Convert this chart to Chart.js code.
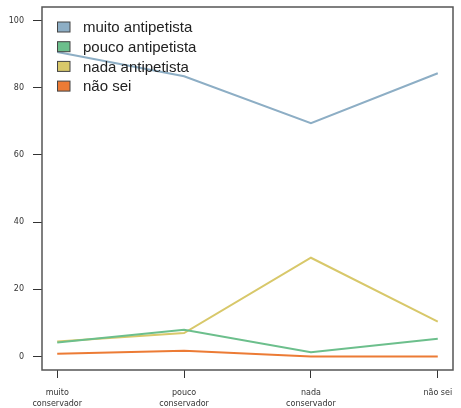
<!DOCTYPE html>
<html>
<head>
<meta charset="utf-8">
<script src="https://cdn.jsdelivr.net/npm/chart.js@4/dist/chart.umd.min.js"></script>
<style>
html,body{margin:0;padding:0;background:#fff;}
#wrap{width:461px;height:408px;position:relative;}
</style>
</head>
<body>
<div id="wrap"><canvas id="c" width="461" height="408"></canvas></div>
<script>
const categories = [["muito","conservador"],["pouco","conservador"],["nada","conservador"],["não sei"]];
const seriesNames = ["muito antipetista","pouco antipetista","nada antipetista","não sei"];
const muitoAntipetista = [90.6, 83.4, 69.4, 84.3];
const poucoAntipetista = [4.2, 8.0, 1.3, 5.3];
const nadaAntipetista  = [4.5, 7.0, 29.4, 10.4];
const naoSei           = [0.8, 1.7, 0.0, 0.0];
const yTicks = [0, 20, 40, 60, 80, 100];
const colors = ["#8daec5", "#6cbf8c", "#d8c86a", "#ec7b35"];

const allSeries = [muitoAntipetista, poucoAntipetista, nadaAntipetista, naoSei];
const datasets = allSeries.map((vals, i) => ({
  label: seriesNames[i],
  data: vals.map((v, j) => ({x: j + 1, y: v})),
  borderColor: colors[i],
  backgroundColor: colors[i],
  borderWidth: 2,
  pointRadius: 0,
  tension: 0,
  fill: false
}));

const boxPlugin = {
  id: 'box',
  afterDraw(chart) {
    const {ctx, chartArea: a} = chart;
    ctx.save();
    ctx.strokeStyle = '#555';
    ctx.lineWidth = 1.5;
    ctx.strokeRect(a.left, a.top, a.right - a.left, a.bottom - a.top);
    // legend
    ctx.font = '15px "Liberation Sans", Arial, sans-serif';
    ctx.textBaseline = 'middle';
    ctx.textAlign = 'left';
    seriesNames.forEach((n, i) => {
      const y = 27 + i * 19.7;
      ctx.fillStyle = colors[i];
      ctx.fillRect(57.5, y - 5, 12.5, 10);
      ctx.strokeStyle = '#444';
      ctx.lineWidth = 1;
      ctx.strokeRect(57.5, y - 5, 12.5, 10);
      ctx.fillStyle = '#222';
      ctx.fillText(n, 83, y + 1);
    });
    ctx.restore();
  }
};

new Chart(document.getElementById('c'), {
  type: 'line',
  data: { datasets },
  options: {
    responsive: false,
    animation: false,
    layout: { padding: { top: 7, right: 8, left: 0, bottom: 0 } },
    plugins: { legend: { display: false }, tooltip: { enabled: false } },
    scales: {
      x: {
        type: 'linear',
        min: 0.88, max: 4.12,
        afterBuildTicks: s => { s.ticks = [1,2,3,4].map(v => ({value: v})); },
        afterFit: s => { s.height = 38; s.paddingLeft = 0; s.paddingRight = 0; },
        grid: { display: true, drawOnChartArea: false, drawTicks: true, tickLength: 8, color: '#333', lineWidth: 1 },
        border: { display: false },
        ticks: {
          autoSkip: false, maxRotation: 0, padding: 10,
          color: '#333',
          font: { size: 8, family: '"DejaVu Sans", sans-serif', lineHeight: 1.3 },
          callback: v => categories[v - 1]
        }
      },
      y: {
        type: 'linear',
        min: -4, max: 104,
        afterBuildTicks: s => { s.ticks = yTicks.map(v => ({value: v})); },
        afterFit: s => { s.width = 42; s.paddingTop = 0; s.paddingBottom = 0; },
        grid: { display: true, drawOnChartArea: false, drawTicks: true, tickLength: 9, color: '#333', lineWidth: 1 },
        border: { display: false },
        ticks: {
          padding: 9, color: '#333',
          font: { size: 8, family: '"DejaVu Sans", sans-serif' }
        }
      }
    }
  },
  plugins: [boxPlugin]
});
</script>
</body>
</html>
